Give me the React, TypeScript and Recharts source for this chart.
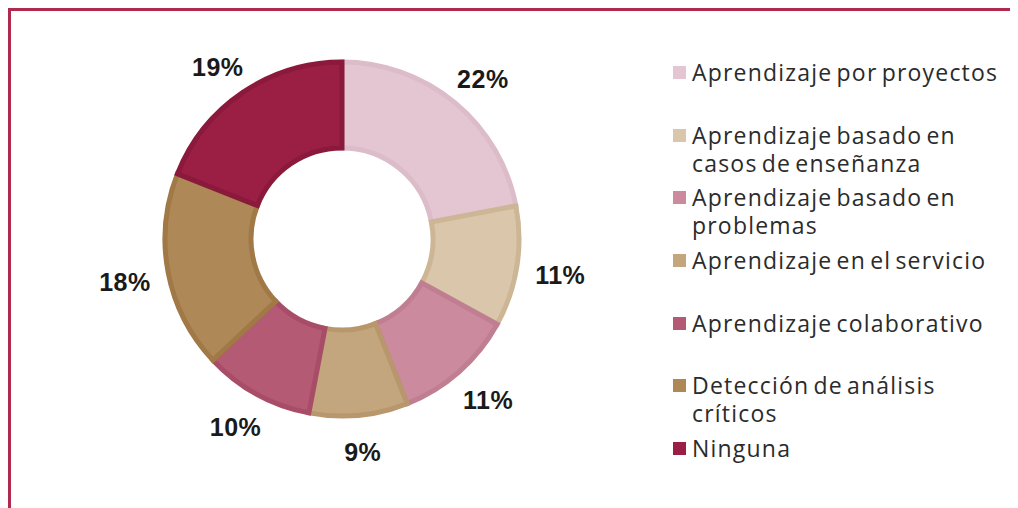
import { Cell, Legend, Pie, PieChart } from "recharts";

const categories = [
  "Aprendizaje por proyectos",
  "Aprendizaje basado en casos de enseñanza",
  "Aprendizaje basado en problemas",
  "Aprendizaje en el servicio",
  "Aprendizaje colaborativo",
  "Detección de análisis críticos",
  "Ninguna",
];
const shares = [22, 11, 11, 9, 10, 18, 19];
const fills = ["#e3c6d1", "#d9c6ab", "#cc8a9e", "#c4a67e", "#b55a74", "#ae8856", "#9b1f45"];
const edges = ["#dcbcc8", "#cdb695", "#c07e92", "#b8976c", "#a84d68", "#a07947", "#8a193c"];

const data = categories.map((name, i) => ({ name, value: shares[i] }));

const RAD = Math.PI / 180;

function renderLabel(props: any) {
  const { cx, cy, midAngle, outerRadius, value } = props;
  const cos = Math.cos(-midAngle * RAD);
  const sin = Math.sin(-midAngle * RAD);
  const r = outerRadius + 34;
  const x = cx + r * cos + 10 * cos;
  const y = cy + r * sin + 3;
  return (
    <text
      x={x}
      y={y}
      textAnchor="middle"
      dominantBaseline="central"
      fill="#1a1a1a"
      fontSize={25}
      fontWeight="bold"
      fontFamily="Liberation Sans, Arial, sans-serif"
      letterSpacing={0.5}
    >
      {`${value}%`}
    </text>
  );
}

function LegendList() {
  return (
    <div style={{ fontFamily: "'Open Sans', sans-serif", color: "#2b2b2b" }}>
      {data.map((d, i) => (
        <div key={d.name} style={{ display: "flex", alignItems: "flex-start", height: 62.7 }}>
          <div style={{ width: 13, height: 13, background: fills[i], marginTop: 8, marginRight: 6, flexShrink: 0 }} />
          <div style={{ fontSize: 23, lineHeight: "28px", width: 318, letterSpacing: 1.2, wordSpacing: -3 }}>
            {d.name}
          </div>
        </div>
      ))}
    </div>
  );
}

export default function App() {
  return (
    <div
      style={{
        width: 1010,
        height: 500,
        borderTop: "3px solid #b0294f",
        borderLeft: "3px solid #b0294f",
        boxSizing: "border-box",
        background: "#fff",
      }}
    >
      <PieChart width={1007} height={497}>
        <Pie
          data={data}
          dataKey="value"
          nameKey="name"
          cx={326}
          cy={223}
          innerRadius={91}
          outerRadius={177}
          startAngle={90}
          endAngle={-270}
          stroke="none"
          label={renderLabel}
          labelLine={false}
          isAnimationActive={false}
        >
          {data.map((d, i) => (
            <Cell key={d.name} fill={fills[i]} stroke={edges[i]} strokeWidth={5} />
          ))}
        </Pie>
        <Legend
          content={() => <LegendList />}
          wrapperStyle={{ position: "absolute", left: 662, top: 47, width: 345 }}
        />
      </PieChart>
    </div>
  );
}
